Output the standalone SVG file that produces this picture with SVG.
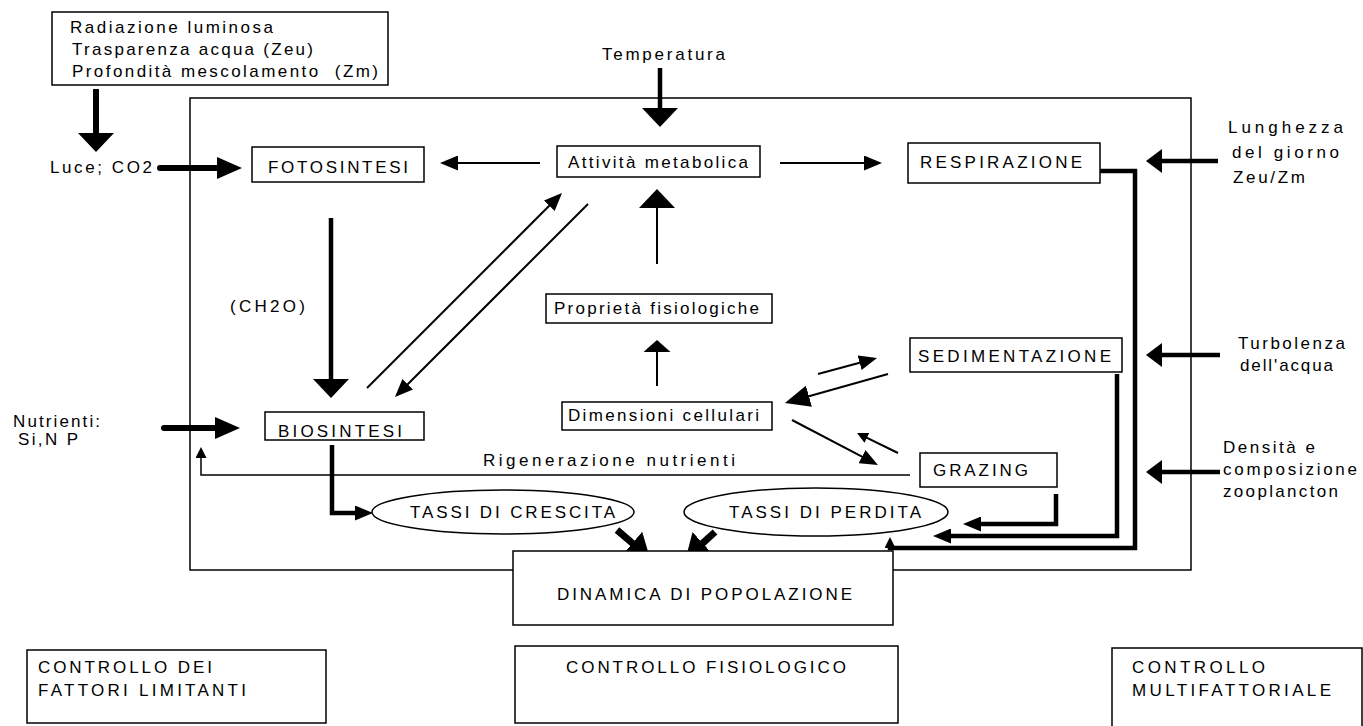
<svg xmlns="http://www.w3.org/2000/svg" width="1363" height="726" viewBox="0 0 1363 726">
<style>
text{font-family:"Liberation Sans",Arial,sans-serif;font-size:17px;fill:#000}
.box{fill:#fff;stroke:#000;stroke-width:1.5}
.frame{fill:none;stroke:#000;stroke-width:1.5}
.th{fill:none;stroke:#000;stroke-width:6}
.tm{fill:none;stroke:#000;stroke-width:4.5}
.tn{fill:none;stroke:#000;stroke-width:2}
.tl{fill:none;stroke:#000;stroke-width:1.5}
</style>
<defs>
<marker id="hL" markerUnits="userSpaceOnUse" viewBox="0 0 19 36" markerWidth="19" markerHeight="36" refX="1" refY="18" orient="auto"><path d="M0,0L19,18L0,36z"/></marker>
<marker id="hM" markerUnits="userSpaceOnUse" viewBox="0 0 25 22" markerWidth="25" markerHeight="22" refX="1" refY="11" orient="auto"><path d="M0,0L25,11L0,22z"/></marker>
<marker id="hS" markerUnits="userSpaceOnUse" viewBox="0 0 16 24" markerWidth="16" markerHeight="24" refX="1" refY="12" orient="auto"><path d="M0,0L16,12L0,24z"/></marker>
<marker id="hT" markerUnits="userSpaceOnUse" viewBox="0 0 18 15" markerWidth="18" markerHeight="15" refX="1" refY="7.5" orient="auto"><path d="M0,0L18,7.5L0,15z"/></marker>
<marker id="hX" markerUnits="userSpaceOnUse" viewBox="0 0 11 11" markerWidth="11" markerHeight="11" refX="1" refY="5.5" orient="auto"><path d="M0,0L11,5.5L0,11z"/></marker>
<marker id="hU" markerUnits="userSpaceOnUse" viewBox="0 0 12 27" markerWidth="12" markerHeight="27" refX="1" refY="13.5" orient="auto"><path d="M0,0L12,13.5L0,27z"/></marker>
<marker id="hD" markerUnits="userSpaceOnUse" viewBox="0 0 23 30" markerWidth="23" markerHeight="30" refX="1" refY="15" orient="auto"><path d="M0,0L23,15L0,30z"/></marker>
</defs>

<g id="frame-main"><rect class="frame" x="190" y="98" width="1001" height="472"/></g>

<g id="connectors">
<path class="th" d="M96,89V134" marker-end="url(#hL)"/>
<path class="th" d="M160,168H218" stroke-linecap="round" marker-end="url(#hM)"/>
<path class="tm" d="M660,68V109" marker-end="url(#hL)"/>
<path class="tn" d="M540,163H457" marker-end="url(#hT)"/>
<path class="tn" d="M780,163H865" marker-end="url(#hT)"/>
<path class="tm" d="M1218,161H1161" marker-end="url(#hS)"/>
<path class="tm" d="M331,218V380" marker-end="url(#hL)"/>
<path class="th" d="M164,428H216" stroke-linecap="round" marker-end="url(#hM)"/>
<path class="tn" d="M657,264V207" marker-end="url(#hL)"/>
<path class="tn" d="M657,386V351" marker-end="url(#hU)"/>
<path class="tn" d="M367,388L550,205" marker-end="url(#hT)"/>
<path class="tn" d="M588,204L407,385" marker-end="url(#hT)"/>
<path class="tn" d="M818,374L860.6,362.5" marker-end="url(#hT)"/>
<path class="tn" d="M888,374L808,396.5" marker-end="url(#hM)"/>
<path class="tn" d="M792,420L862.9,457.1" marker-end="url(#hT)"/>
<path class="tn" d="M898,453L866,437.4" marker-end="url(#hX)"/>
<path class="tm" d="M1220,355H1161" marker-end="url(#hS)"/>
<path class="tm" d="M1220,472H1161" marker-end="url(#hS)"/>
<path class="tl" d="M910,475H201V457" marker-end="url(#hX)"/>
<path class="tm" d="M332,445V513H356" marker-end="url(#hT)"/>
<path fill="none" stroke="#000" stroke-width="7" d="M617,530L633.2,543.8" marker-end="url(#hD)"/>
<path fill="none" stroke="#000" stroke-width="7" d="M715,532L701.9,543.9" marker-end="url(#hD)"/>
<path class="tm" d="M1056,494V524H980" marker-end="url(#hT)"/>
<path class="tm" d="M1117,374V536H950" marker-end="url(#hT)"/>
<path class="tm" d="M1100,171H1135V548H890V547" marker-end="url(#hX)"/>
</g>

<g id="n-fattori">
<rect class="box" x="52" y="12" width="336" height="73"/>
<text x="70" y="33" textLength="203" lengthAdjust="spacing">Radiazione luminosa</text>
<text x="72" y="55" textLength="241" lengthAdjust="spacing">Trasparenza acqua (Zeu)</text>
<text x="72" y="77" textLength="306" lengthAdjust="spacing">Profondità mescolamento&#160; (Zm)</text>
</g>
<g id="n-luce"><text x="50" y="173" textLength="102" lengthAdjust="spacing">Luce; CO2</text></g>
<g id="n-fotosintesi">
<rect class="box" x="252" y="147" width="172" height="35"/>
<text x="268" y="173" textLength="140" lengthAdjust="spacing">FOTOSINTESI</text>
</g>
<g id="n-temperatura"><text x="602" y="60" textLength="123" lengthAdjust="spacing">Temperatura</text></g>
<g id="n-attivita">
<rect class="box" x="557" y="146" width="203" height="31"/>
<text x="568" y="168" textLength="180" lengthAdjust="spacing">Attività metabolica</text>
</g>
<g id="n-respirazione">
<rect class="box" x="908" y="143" width="192" height="40"/>
<text x="920" y="168" textLength="162" lengthAdjust="spacing">RESPIRAZIONE</text>
</g>
<g id="n-lunghezza">
<text x="1228" y="133" textLength="115" lengthAdjust="spacing">Lunghezza</text>
<text x="1232" y="158" textLength="107" lengthAdjust="spacing">del giorno</text>
<text x="1233" y="183" textLength="72" lengthAdjust="spacing">Zeu/Zm</text>
</g>
<g id="n-ch2o"><text x="230" y="312" textLength="75" lengthAdjust="spacing">(CH2O)</text></g>
<g id="n-proprieta">
<rect class="box" x="546" y="294" width="226" height="29"/>
<text x="554" y="314" textLength="205" lengthAdjust="spacing">Proprietà fisiologiche</text>
</g>
<g id="n-dimensioni">
<rect class="box" x="562" y="402" width="210" height="28"/>
<text x="568" y="421" textLength="191" lengthAdjust="spacing">Dimensioni cellulari</text>
</g>
<g id="n-sedimentazione">
<rect class="box" x="910" y="338" width="212" height="34"/>
<text x="918" y="362" textLength="193" lengthAdjust="spacing">SEDIMENTAZIONE</text>
</g>
<g id="n-turbolenza">
<text x="1238" y="349" textLength="107" lengthAdjust="spacing">Turbolenza</text>
<text x="1240" y="371" textLength="93" lengthAdjust="spacing">dell'acqua</text>
</g>
<g id="n-grazing">
<rect class="box" x="920" y="453" width="137" height="34"/>
<text x="933" y="476" textLength="95" lengthAdjust="spacing">GRAZING</text>
</g>
<g id="n-densita">
<text x="1223" y="453" textLength="92" lengthAdjust="spacing">Densità e</text>
<text x="1223" y="475" textLength="134" lengthAdjust="spacing">composizione</text>
<text x="1223" y="497" textLength="115" lengthAdjust="spacing">zooplancton</text>
</g>
<g id="n-biosintesi">
<rect class="box" x="265" y="412" width="159" height="28"/>
<text x="278" y="437" textLength="124" lengthAdjust="spacing">BIOSINTESI</text>
</g>
<g id="n-nutrienti">
<text x="13" y="427" textLength="87" lengthAdjust="spacing">Nutrienti:</text>
<text x="18" y="445" textLength="60" lengthAdjust="spacing">Si,N P</text>
</g>
<g id="n-rigenerazione"><text x="483" y="466" textLength="252" lengthAdjust="spacing">Rigenerazione nutrienti</text></g>
<g id="n-crescita">
<ellipse class="box" cx="503" cy="512" rx="131" ry="22"/>
<text x="410" y="518" textLength="205" lengthAdjust="spacing">TASSI DI CRESCITA</text>
</g>
<g id="n-perdita">
<ellipse class="box" cx="816" cy="512" rx="132" ry="24"/>
<text x="729" y="518" textLength="192" lengthAdjust="spacing">TASSI DI PERDITA</text>
</g>
<g id="n-dinamica">
<rect class="box" x="513" y="551" width="380" height="74"/>
<text x="557" y="600" textLength="295" lengthAdjust="spacing">DINAMICA DI POPOLAZIONE</text>
</g>
<g id="n-controllo-limitanti">
<rect class="box" x="27" y="650" width="299" height="73"/>
<text x="38" y="673" textLength="174" lengthAdjust="spacing">CONTROLLO DEI</text>
<text x="38" y="696" textLength="208" lengthAdjust="spacing">FATTORI LIMITANTI</text>
</g>
<g id="n-controllo-fisiologico">
<rect class="box" x="515" y="646" width="383" height="77"/>
<text x="566" y="673" textLength="280" lengthAdjust="spacing">CONTROLLO FISIOLOGICO</text>
</g>
<g id="n-controllo-multi">
<rect class="box" x="1112" y="648" width="250" height="80"/>
<text x="1132" y="673" textLength="133" lengthAdjust="spacing">CONTROLLO</text>
<text x="1132" y="696" textLength="199" lengthAdjust="spacing">MULTIFATTORIALE</text>
</g>
</svg>
